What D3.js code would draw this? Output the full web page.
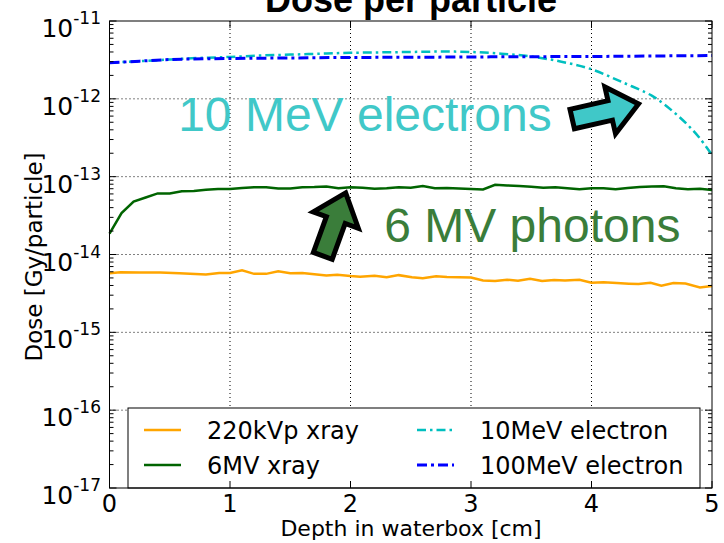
<!DOCTYPE html>
<html>
<head>
<meta charset="utf-8">
<script src="https://cdn.jsdelivr.net/npm/d3@7"></script>
<style>
  body{margin:0;background:#fff;}
  svg text{font-family:"DejaVu Sans",sans-serif;fill:#000;}
  .grid line{stroke:#000;stroke-width:1;stroke-dasharray:1,3;}
</style>
</head>
<body>
<div id="chart"></div>
<script>
// depth [cm] and dose [Gy/particle]
const depth220 = [0,0.09,0.25,0.42,0.58,0.8,0.91,1.0,1.1,1.2,1.3,1.4,1.5,1.6,1.7,1.8,1.89,2.0,2.08,2.2,2.3,2.4,2.51,2.6,2.71,2.8,2.9,3.0,3.1,3.2,3.3,3.39,3.49,3.59,3.69,3.78,3.9,4.0,4.1,4.21,4.31,4.39,4.49,4.58,4.68,4.78,4.9,5.0];
const dose220 = [5.75e-15,5.9e-15,5.86e-15,5.86e-15,5.75e-15,5.53e-15,5.8e-15,5.8e-15,6.25e-15,5.64e-15,5.64e-15,6.08e-15,5.75e-15,5.8e-15,5.59e-15,5.39e-15,5.48e-15,5.28e-15,5.19e-15,5.33e-15,5.1e-15,5.43e-15,5.1e-15,4.96e-15,5.24e-15,5.14e-15,5.1e-15,5.05e-15,4.65e-15,4.57e-15,4.74e-15,4.61e-15,4.87e-15,4.57e-15,4.7e-15,4.65e-15,4.74e-15,4.33e-15,4.4e-15,4.29e-15,4.21e-15,4.17e-15,4.33e-15,3.98e-15,4.29e-15,4.25e-15,3.78e-15,3.94e-15];

const depth6 = [0,0.1,0.2,0.3,0.4,0.5,0.6,0.7,0.8,0.9,1.0,1.1,1.2,1.3,1.4,1.5,1.6,1.7,1.8,1.9,2.0,2.1,2.2,2.3,2.4,2.5,2.6,2.7,2.8,2.9,3.0,3.1,3.2,3.3,3.4,3.5,3.6,3.7,3.8,3.9,4.0,4.1,4.2,4.3,4.4,4.5,4.6,4.7,4.8,4.9,5.0];
const dose6 = [1.85e-14,3.4e-14,4.8e-14,5.4e-14,6.1e-14,6.1e-14,6.5e-14,6.55e-14,6.8e-14,6.95e-14,6.95e-14,7.15e-14,7.3e-14,7.3e-14,7.05e-14,7.05e-14,7.3e-14,7.35e-14,7.5e-14,7.1e-14,7.3e-14,7.2e-14,7.0e-14,7.1e-14,7.3e-14,7.2e-14,7.6e-14,7.1e-14,7.15e-14,7.05e-14,6.95e-14,6.85e-14,7.85e-14,7.7e-14,7.6e-14,7.4e-14,7.2e-14,7.3e-14,7.1e-14,6.9e-14,7.1e-14,7.1e-14,6.9e-14,7.15e-14,7.35e-14,7.5e-14,7.55e-14,7.1e-14,6.9e-14,7.0e-14,6.75e-14];

const depth10 = [0,0.25,0.5,0.75,1,1.25,1.5,1.75,2,2.25,2.5,2.75,3,3.25,3.5,3.75,4,4.25,4.5,4.6,4.7,4.8,4.9,5.0];
const dose10 = [2.9e-12,3.05e-12,3.2e-12,3.35e-12,3.45e-12,3.6e-12,3.7e-12,3.8e-12,3.9e-12,3.95e-12,4.0e-12,4.05e-12,4.0e-12,3.8e-12,3.5e-12,3.0e-12,2.4e-12,1.65e-12,1.1e-12,8.6e-13,6.4e-13,4.6e-13,3.1e-13,1.9e-13];

const depth100 = [0,0.25,0.5,1,1.5,2,2.5,3,3.5,4,4.5,5];
const dose100 = [2.9e-12,3.05e-12,3.2e-12,3.3e-12,3.35e-12,3.4e-12,3.42e-12,3.45e-12,3.48e-12,3.5e-12,3.55e-12,3.6e-12];

const xTicks = [0,1,2,3,4,5];
const yExps = [-17,-16,-15,-14,-13,-12,-11];
const seriesNames = ["220kVp xray","6MV xray","10MeV electron","100MeV electron"];

const W = 724, H = 543;
const m = {l:109.5, r:712, t:21, b:488};

const svg = d3.select("#chart").append("svg")
  .attr("width", W).attr("height", H);

const x = d3.scaleLinear().domain([0,5]).range([m.l, m.r]);
const y = d3.scaleLog().domain([1e-17,1e-11]).range([m.b, m.t]);

const majorY = yExps.map(e => Math.pow(10, e));
const minorY = [];
yExps.slice(0,-1).forEach(e => { for (let k=2;k<10;k++) minorY.push(k*Math.pow(10,e)); });

// grid
const grid = svg.append("g").attr("class","grid");
grid.selectAll(".gx").data(xTicks.slice(1,-1)).enter().append("line")
  .attr("x1", d=>x(d)).attr("x2", d=>x(d)).attr("y1", m.t).attr("y2", m.b);
grid.selectAll(".gy").data(majorY.slice(1,-1)).enter().append("line")
  .attr("x1", m.l).attr("x2", m.r).attr("y1", d=>y(d)).attr("y2", d=>y(d));

// series
const series = [
  {name: seriesNames[0], xs: depth220, ys: dose220, color:"#ffa500", w:2.5, dash:null, curve:d3.curveLinear},
  {name: seriesNames[1], xs: depth6, ys: dose6, color:"#006400", w:2.5, dash:null, curve:d3.curveLinear},
  {name: seriesNames[2], xs: depth10, ys: dose10, color:"#00bfbf", w:2.5, dash:"9,4,2.5,4", curve:d3.curveCatmullRom},
  {name: seriesNames[3], xs: depth100, ys: dose100, color:"#0000ff", w:3, dash:"10,4,3,4", curve:d3.curveMonotoneX}
];

const plot = svg.append("g");
series.forEach(s => {
  const line = d3.line().x(d=>x(d[0])).y(d=>y(d[1])).curve(s.curve);
  plot.append("path")
    .datum(s.xs.map((v,i)=>[v, s.ys[i]]))
    .attr("d", line)
    .attr("fill","none")
    .attr("stroke", s.color)
    .attr("stroke-width", s.w)
    .attr("stroke-dasharray", s.dash);
});

// annotations
function arrow(tail, tip, sw, hw, hl){
  const dx = tip[0]-tail[0], dy = tip[1]-tail[1];
  const L = Math.hypot(dx,dy), ux = dx/L, uy = dy/L, nx = -uy, ny = ux;
  const bx = tip[0]-ux*hl, by = tip[1]-uy*hl;
  return [
    [tail[0]+nx*sw, tail[1]+ny*sw], [bx+nx*sw, by+ny*sw], [bx+nx*hw, by+ny*hw],
    tip,
    [bx-nx*hw, by-ny*hw], [bx-nx*sw, by-ny*sw], [tail[0]-nx*sw, tail[1]-ny*sw]
  ];
}
const notes = [
  {text:"10 MeV electrons", at:[0.57, 3.86e-13], color:"#40c8c8", tail:[3.84, 5.5e-13], tip:[4.39, 8.6e-13]},
  {text:"6 MV photons", at:[2.28, 1.45e-14], color:"#3a7d3a", tail:[1.77, 9.6e-15], tip:[1.96, 6.2e-14]}
];
notes.forEach(n => {
  svg.append("text")
    .attr("x", x(n.at[0])).attr("y", y(n.at[1]))
    .style("font-family", "'Liberation Sans', Arial, sans-serif")
    .style("font-size", "48px")
    .style("fill", n.color)
    .text(n.text);
  const pts = arrow([x(n.tail[0]), y(n.tail[1])], [x(n.tip[0]), y(n.tip[1])], 10, 24, 29);
  svg.append("path")
    .attr("d", d3.line()(pts) + "Z")
    .attr("fill", n.color)
    .attr("stroke", "#000")
    .attr("stroke-width", 5)
    .attr("stroke-linejoin", "miter");
});

// legend
const lg = svg.append("g");
lg.append("rect").attr("x",128).attr("y",408).attr("width",572).attr("height",80)
  .attr("fill","#fff").attr("stroke","#000").attr("stroke-width",1);
series.forEach((s,i) => {
  const col = Math.floor(i/2), row = i%2;
  const lx = col ? 417 : 144, ty = row ? 465 : 430;
  lg.append("line").attr("x1",lx).attr("x2",lx+37).attr("y1",ty).attr("y2",ty)
    .attr("stroke", s.color).attr("stroke-width", s.w).attr("stroke-dasharray", s.dash);
  lg.append("text").attr("x", lx+63).attr("y", ty).attr("dy","0.36em")
    .style("font-size","24px").text(s.name);
});

// frame and ticks
svg.append("rect").attr("x",m.l).attr("y",m.t).attr("width",m.r-m.l).attr("height",m.b-m.t)
  .attr("fill","none").attr("stroke","#000").attr("stroke-width",1);

const ax = svg.append("g").attr("stroke","#000").attr("stroke-width",1);
xTicks.forEach(t => {
  ax.append("line").attr("x1",x(t)).attr("x2",x(t)).attr("y1",m.b).attr("y2",m.b-7);
  ax.append("line").attr("x1",x(t)).attr("x2",x(t)).attr("y1",m.t).attr("y2",m.t+7);
});
majorY.forEach(v => {
  ax.append("line").attr("x1",m.l).attr("x2",m.l+7).attr("y1",y(v)).attr("y2",y(v));
  ax.append("line").attr("x1",m.r).attr("x2",m.r-7).attr("y1",y(v)).attr("y2",y(v));
});
minorY.forEach(v => {
  ax.append("line").attr("x1",m.l).attr("x2",m.l+4).attr("y1",y(v)).attr("y2",y(v));
  ax.append("line").attr("x1",m.r).attr("x2",m.r-4).attr("y1",y(v)).attr("y2",y(v));
});

svg.selectAll(".xl").data(xTicks).enter().append("text")
  .attr("x", d=>x(d)).attr("y", 512)
  .attr("text-anchor","middle").style("font-size","24px").text(d=>d);

yExps.forEach(e => {
  const t = svg.append("text").attr("x", 101).attr("y", y(Math.pow(10,e)) + 16)
    .attr("text-anchor","end").style("font-size","25px");
  t.append("tspan").text("10");
  t.append("tspan").attr("dy",-13).style("font-size","17px").text(String(e));
});

svg.append("text").attr("x", 411).attr("y", 536).attr("text-anchor","middle")
  .style("font-size","22px").text("Depth in waterbox [cm]");
svg.append("text").attr("transform","translate(42,257) rotate(-90)").attr("text-anchor","middle")
  .style("font-size","23px").text("Dose [Gy/particle]");
svg.append("text").attr("x", 411).attr("y", 12).attr("text-anchor","middle")
  .style("font-family","'Liberation Sans', Arial, sans-serif")
  .style("font-weight","bold").style("font-size","36px").text("Dose per particle");
</script>
</body>
</html>
